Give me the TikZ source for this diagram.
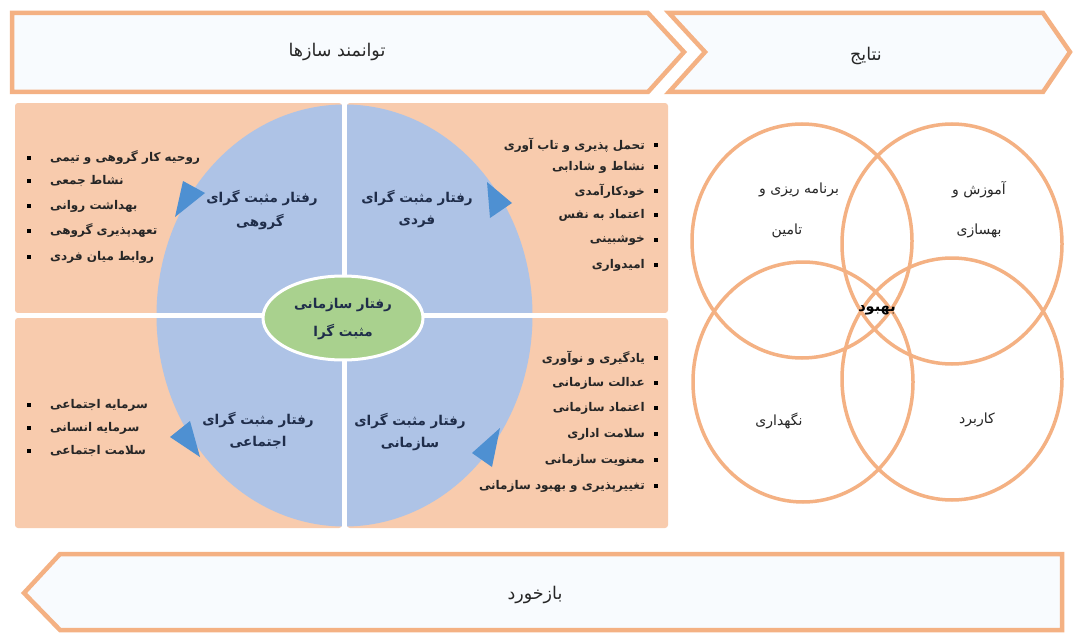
\documentclass[tikz,border=0pt]{standalone}
\usepackage{fontspec}
\usetikzlibrary{shapes.geometric}
\newfontfamily\fa[Script=Arabic]{DejaVu Sans}
\TeXXeTstate=1
\newcommand\fatext[1]{\beginR#1\endR}
\definecolor{peach}{HTML}{F8CBAD}
\definecolor{qblue}{HTML}{AEC3E6}
\definecolor{qgreen}{HTML}{A9D18E}
\definecolor{tri}{HTML}{4E90D2}
\definecolor{ornge}{HTML}{F4B183}
\definecolor{navy}{HTML}{1F2D4A}
\definecolor{bannerfill}{HTML}{F8FBFE}
\tikzset{
  banner/.style={draw=ornge, line width=4.5pt, fill=bannerfill, line join=miter},
  quad/.style={fill=peach, rounded corners=3pt},
  ring/.style={draw=ornge, line width=3.5pt},
  listitem/.style={font=\fa\bfseries\fontsize{12}{14}\selectfont, text=black!85, inner sep=0pt},
  qtitle/.style={font=\fa\bfseries\fontsize{13.5}{16}\selectfont, text=navy, inner sep=0pt},
  ctext/.style={font=\fa\fontsize{14}{16}\selectfont, text=black!85, inner sep=0pt},
  btitle/.style={font=\fa\fontsize{17.5}{20}\selectfont, text=black!85, inner sep=0pt},
  bullet/.style={fill=black, minimum size=4pt, inner sep=0pt}
}
\begin{document}
\begin{tikzpicture}[x=1pt,y=-1pt]
\useasboundingbox (0,0) rectangle (1074,634);
\fill[white] (0,0) rectangle (1074,634);

% top banners
\draw[banner] (12,13) -- (648,13) -- (684,52) -- (648,92) -- (12,92) -- cycle;
\draw[banner] (669,13) -- (1043,13) -- (1070,52) -- (1043,92) -- (669,92) -- (705,52) -- cycle;
\node[btitle] (empower) at (337,52) {\fatext{توانمند سازها}};
\node[btitle] (results) at (866,56) {\fatext{نتایج}};

% bottom banner
\draw[banner] (60,554) -- (1062,554) -- (1062,630) -- (60,630) -- (24,593) -- cycle;
\node[btitle] (feedback) at (535,595) {\fatext{بازخورد}};

% quadrants
\fill[quad] (15,103) rectangle (342,313);
\fill[quad] (347,103) rectangle (668,313);
\fill[quad] (15,318) rectangle (342,528);
\fill[quad] (347,318) rectangle (668,528);
\fill[qblue] (344.5,315.5) ellipse [x radius=188, y radius=211];
\draw[white, line width=5pt] (344.5,98) -- (344.5,532);
\draw[white, line width=5pt] (10,315.5) -- (672,315.5);

% triangles
\fill[tri] (183,181) -- (205,193) -- (175,217) -- cycle;
\fill[tri] (487,182) -- (512,203) -- (490,218) -- cycle;
\fill[tri] (170,437) -- (190,421) -- (200,457) -- cycle;
\fill[tri] (472,453) -- (500,428) -- (492,467) -- cycle;

% centre
\node[ellipse, draw=white, line width=3pt, fill=qgreen, minimum width=160pt, minimum height=84pt, inner sep=0pt] (core) at (343,318) {};
\node[qtitle] (coret1) at (343,305) {\fatext{رفتار سازمانی}};
\node[qtitle] (coret2) at (343,332) {\fatext{مثبت گرا}};

\node[qtitle] (grp1) at (262,198) {\fatext{رفتار مثبت گرای}};
\node[qtitle] (grp2) at (260,222) {\fatext{گروهی}};
\node[qtitle] (ind1) at (417,198) {\fatext{رفتار مثبت گرای}};
\node[qtitle] (ind2) at (417,222) {\fatext{فردی}};
\node[qtitle] (soc1) at (258,420) {\fatext{رفتار مثبت گرای}};
\node[qtitle] (soc2) at (258,443) {\fatext{اجتماعی}};
\node[qtitle] (org1) at (410,421) {\fatext{رفتار مثبت گرای}};
\node[qtitle] (org2) at (410,444) {\fatext{سازمانی}};

% lists
\foreach \t/\y [count=\i] in {روحیه کار گروهی و تیمی/158, نشاط جمعی/181, بهداشت روانی/206, تعهدپذیری گروهی/231, روابط میان فردی/257}{
  \node[bullet] (gb\i) at (29,\y) {};
  \node[listitem, anchor=west] (gl\i) at (50,\y) {\fatext{\t}};
}
\foreach \t/\y [count=\i] in {تحمل پذیری و تاب آوری/145, نشاط و شادابی/167, خودکارآمدی/191, اعتماد به نفس/215, خوشبینی/240, امیدواری/265}{
  \node[bullet] (ib\i) at (656,\y) {};
  \node[listitem, anchor=east] (il\i) at (645,\y) {\fatext{\t}};
}
\foreach \t/\y [count=\i] in {سرمایه اجتماعی/405, سرمایه انسانی/428, سلامت اجتماعی/451}{
  \node[bullet] (sb\i) at (29,\y) {};
  \node[listitem, anchor=west] (sl\i) at (50,\y) {\fatext{\t}};
}
\foreach \t/\y [count=\i] in {یادگیری و نوآوری/358, عدالت سازمانی/383, اعتماد سازمانی/408, سلامت اداری/434, معنویت سازمانی/460, تغییرپذیری و بهبود سازمانی/486}{
  \node[bullet] (ob\i) at (656,\y) {};
  \node[listitem, anchor=east] (ol\i) at (645,\y) {\fatext{\t}};
}

% outcome circles
\draw[ring] (802,241) ellipse [x radius=110, y radius=117];
\draw[ring] (952,244) ellipse [x radius=110, y radius=120];
\draw[ring] (803,382) ellipse [x radius=110, y radius=120];
\draw[ring] (952,379) ellipse [x radius=110, y radius=121];
\node[ctext] (plan1) at (799,190) {\fatext{برنامه ریزی و}};
\node[ctext] (plan2) at (787,231) {\fatext{تامین}};
\node[ctext] (train1) at (979,190) {\fatext{آموزش و}};
\node[ctext] (train2) at (979,231) {\fatext{بهسازی}};
\node[ctext] (keep) at (779,421) {\fatext{نگهداری}};
\node[ctext] (use) at (977,420) {\fatext{کاربرد}};
\node[font=\fa\bfseries\fontsize{14.5}{16}\selectfont, inner sep=0pt] (well) at (877,310) {\fatext{بهبود}};
\end{tikzpicture}
\end{document}
